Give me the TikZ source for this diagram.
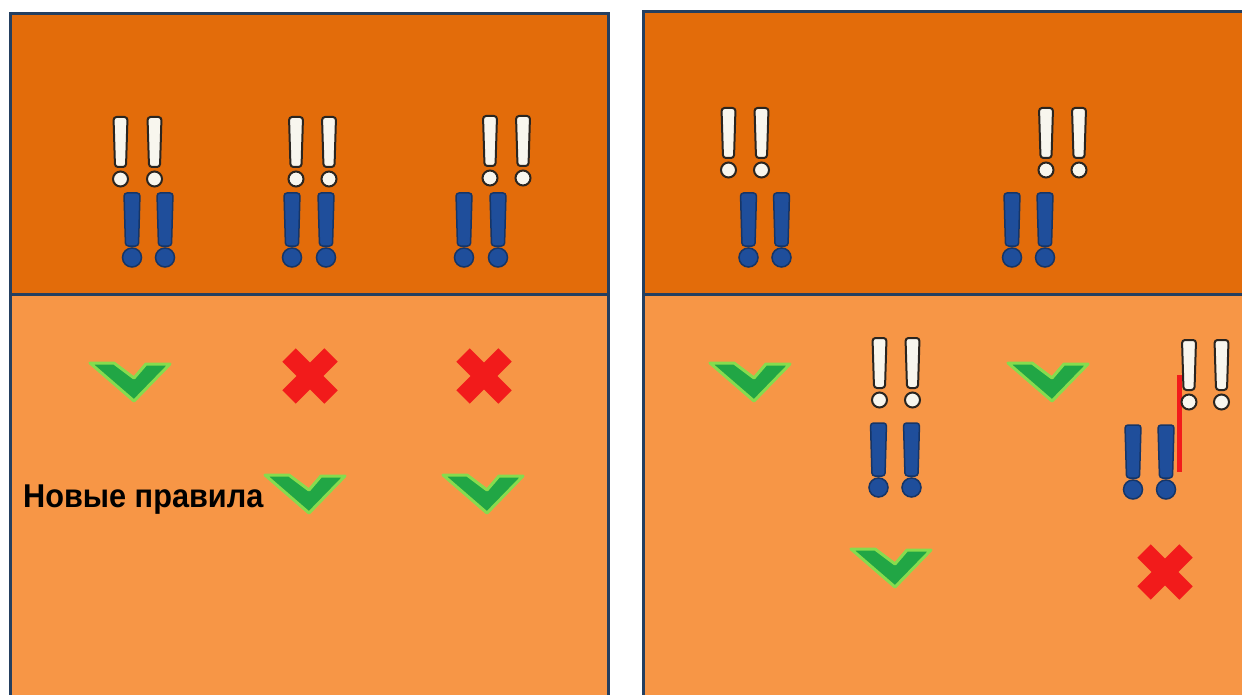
\documentclass[tikz,border=0pt]{standalone}
\usepackage{fontspec}
\setmainfont{Liberation Sans}
\definecolor{darkor}{HTML}{E36C0A}
\definecolor{lightor}{HTML}{F79646}
\definecolor{navy}{HTML}{243F60}
\definecolor{exwhite}{HTML}{F8F6EE}
\definecolor{exedge}{HTML}{2A2520}
\definecolor{exblue}{HTML}{1F4E9B}
\definecolor{exblueedge}{HTML}{163566}
\definecolor{chkfill}{HTML}{21A645}
\definecolor{chkedge}{HTML}{86DC4E}
\definecolor{xred}{HTML}{F21B1B}
\begin{document}
\begin{tikzpicture}[x=1pt,y=-1pt,
  panelline/.style={draw=navy,line width=3pt},
  wex/.pic={
    \filldraw[fill=exwhite,draw=exedge,line width=2pt,rounded corners=3pt]
      (-7,0) -- (7,0) -- (5.5,50) -- (-5.5,50) -- cycle;
    \filldraw[fill=exwhite,draw=exedge,line width=2pt] (0,62) circle (7.5);
  },
  bex/.pic={
    \filldraw[fill=exblue,draw=exblueedge,line width=1.5pt,rounded corners=3pt]
      (-8,0) -- (8,0) -- (6.5,53) -- (-6.5,53) -- cycle;
    \filldraw[fill=exblue,draw=exblueedge,line width=1.5pt] (0,64.5) circle (9.5);
  },
  chk/.pic={
    \filldraw[fill=chkfill,draw=chkedge,line width=3pt,line join=round]
      (1,2) -- (25,2) -- (45,17) -- (57,3) -- (81,3) -- (45,40) -- cycle;
  },
  xmark/.pic={
    \draw[xred,line width=19pt,line cap=butt] (-21,-21) -- (21,21);
    \draw[xred,line width=19pt,line cap=butt] (-21,21) -- (21,-21);
  }
]
\useasboundingbox (0,0) rectangle (1242,695);
\fill[white] (0,0) rectangle (1242,695);
\begin{scope}
\clip (0,0) rectangle (1242,695);
% left panel
\fill[darkor] (10,14) rectangle (608,294);
\fill[lightor] (10,294) rectangle (608,700);
\draw[panelline] (10,700) -- (10,14) -- (608,14) -- (608,700);
\draw[panelline] (10,294) -- (608,294);
% right panel
\fill[darkor] (643,12) rectangle (1250,294);
\fill[lightor] (643,294) rectangle (1250,700);
\draw[panelline] (643,700) -- (643,12) -- (1250,12);
\draw[panelline] (643,294) -- (1250,294);
\end{scope}

% left panel top exclamation pairs
\pic at (120.5,117) {wex}; \pic at (154.5,117) {wex};
\pic at (132,193) {bex}; \pic at (165,193) {bex};
\pic at (296,117) {wex}; \pic at (329,117) {wex};
\pic at (292,193) {bex}; \pic at (326,193) {bex};
\pic at (490,116) {wex}; \pic at (523,116) {wex};
\pic at (464,193) {bex}; \pic at (498,193) {bex};

% right panel top
\pic at (728.5,108) {wex}; \pic at (761.5,108) {wex};
\pic at (748.5,193) {bex}; \pic at (781.5,193) {bex};
\pic at (1046,108) {wex}; \pic at (1079,108) {wex};
\pic at (1012,193) {bex}; \pic at (1045,193) {bex};

% left panel lower
\pic at (89,361) {chk};
\pic at (310,376) {xmark};
\pic at (484,376) {xmark};
\pic at (264,473) {chk};
\pic at (442,473) {chk};
\node[anchor=base west,inner sep=0pt,font=\bfseries\fontsize{33}{36}\selectfont,xscale=0.93] (rules) at (23,507) {Новые правила};

% right panel lower
\pic at (709,361) {chk};
\pic at (1007,361) {chk};
\pic at (850,547) {chk};
\pic at (1165,572) {xmark};
\pic at (879.5,338) {wex}; \pic at (912.5,338) {wex};
\pic at (878.5,423) {bex}; \pic at (911.5,423) {bex};
\pic at (1133,425) {bex}; \pic at (1166,425) {bex};
\coordinate (rtop) at (1179,375);
\coordinate (rbot) at (1179,472);
\draw[xred,line width=5pt] (rtop) -- (rbot);
\pic at (1189,340) {wex}; \pic at (1221.5,340) {wex};
\end{tikzpicture}
\end{document}
